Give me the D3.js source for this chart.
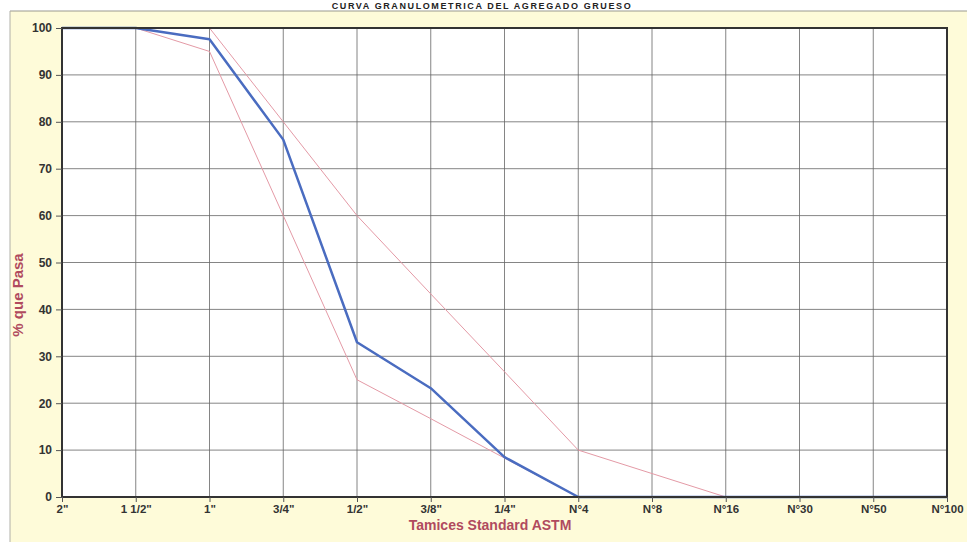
<!DOCTYPE html>
<html>
<head>
<meta charset="utf-8">
<script src="https://cdn.jsdelivr.net/npm/d3@7"></script>
<style>
html,body{margin:0;padding:0;background:#fff;}
svg{display:block;font-family:Arial,"Liberation Sans",sans-serif;}
</style>
</head>
<body>
<svg id="chart" width="967" height="542"></svg>
<script>
const sieves = ['2"', '1 1/2"', '1"', '3/4"', '1/2"', '3/8"', '1/4"', 'N°4', 'N°8', 'N°16', 'N°30', 'N°50', 'N°100'];
const passing = [100, 100, 97.6, 76.2, 33, 23.2, 8.5, 0, 0, 0, 0, 0, 0];
const upperLimit = [100, 100, 100, 80, 60, 43.3, 26.7, 10, 5, 0, null, null, null];
const lowerLimit = [100, 100, 95, 60, 25, 16.7, 8.3, 0, null, null, null, null, null];
const yTicks = [0, 10, 20, 30, 40, 50, 60, 70, 80, 90, 100];
const title = "CURVA GRANULOMETRICA DEL AGREGADO GRUESO";
const xTitle = "Tamices Standard ASTM";
const yTitle = "% que Pasa";

const svg = d3.select("#chart");
const W = 967, H = 542;
const m = {l: 62, r: 20, t: 28, b: 45};

// panel
svg.append("rect").attr("x", 10).attr("y", 11).attr("width", W - 10).attr("height", H - 11)
  .attr("fill", "#fefbd9");
svg.append("line").attr("x1", 10).attr("x2", W).attr("y1", 11).attr("y2", 11)
  .attr("stroke", "#9a9a90").attr("stroke-width", 1);
svg.append("line").attr("x1", 10).attr("x2", 10).attr("y1", 11).attr("y2", H)
  .attr("stroke", "#b0b0a8").attr("stroke-width", 1);

// title
svg.append("text").attr("x", 482).attr("y", 9).attr("text-anchor", "middle")
  .attr("font-size", 9).attr("font-weight", "bold").attr("letter-spacing", 1.6)
  .attr("fill", "#222").text(title);

const x = d3.scalePoint().domain(sieves).range([m.l, W - m.r]);
const y = d3.scaleLinear().domain([0, 100]).range([H - m.b, m.t]);

// plot area
svg.append("rect").attr("x", m.l).attr("y", m.t).attr("width", W - m.r - m.l).attr("height", H - m.b - m.t)
  .attr("fill", "#fff");

// grid
svg.append("g").selectAll("line").data(yTicks).join("line")
  .attr("x1", m.l).attr("x2", W - m.r).attr("y1", d => y(d)).attr("y2", d => y(d))
  .attr("stroke", "#666").attr("stroke-width", 0.8);
svg.append("g").selectAll("line").data(sieves).join("line")
  .attr("x1", d => x(d)).attr("x2", d => x(d)).attr("y1", m.t).attr("y2", H - m.b)
  .attr("stroke", "#666").attr("stroke-width", 0.8);

// limit lines
const line = d3.line().defined(d => d[1] !== null).x(d => x(d[0])).y(d => y(d[1]));
svg.append("path").datum(sieves.map((s, i) => [s, upperLimit[i]]))
  .attr("d", line).attr("fill", "none").attr("stroke", "#e49aa6").attr("stroke-width", 1);
svg.append("path").datum(sieves.map((s, i) => [s, lowerLimit[i]]))
  .attr("d", line).attr("fill", "none").attr("stroke", "#e49aa6").attr("stroke-width", 1);
svg.append("path").datum(sieves.map((s, i) => [s, passing[i]]))
  .attr("d", line).attr("fill", "none").attr("stroke", "#4a6cc0").attr("stroke-width", 2.5)
  .attr("stroke-linejoin", "round");

// frame
svg.append("rect").attr("x", m.l).attr("y", m.t).attr("width", W - m.r - m.l).attr("height", H - m.b - m.t)
  .attr("fill", "none").attr("stroke", "#333").attr("stroke-width", 2);

// axes
const yAxis = d3.axisLeft(y).tickValues(yTicks).tickSize(6).tickPadding(4);
const gy = svg.append("g").attr("transform", `translate(${m.l},0)`).call(yAxis);
gy.select(".domain").remove();
gy.selectAll("line").attr("stroke", "#555");
gy.selectAll("text").attr("font-size", 12).attr("font-weight", "bold").attr("fill", "#333")
  .attr("font-family", "Arial, 'Liberation Sans', sans-serif");

const xAxis = d3.axisBottom(x).tickSize(5).tickPadding(3);
const gx = svg.append("g").attr("transform", `translate(0,${H - m.b})`).call(xAxis);
gx.select(".domain").remove();
gx.selectAll("line").attr("stroke", "#555");
gx.selectAll("text").attr("font-size", 11.5).attr("font-weight", "bold").attr("fill", "#333")
  .attr("font-family", "Arial, 'Liberation Sans', sans-serif");

// axis titles
svg.append("text").attr("x", 490).attr("y", 530).attr("text-anchor", "middle")
  .attr("font-size", 14).attr("font-weight", "bold").attr("fill", "#b04a5e").text(xTitle);
svg.append("text").attr("transform", "translate(23,295) rotate(-90)").attr("text-anchor", "middle")
  .attr("font-size", 15).attr("font-weight", "bold").attr("fill", "#b04a5e").text(yTitle);
</script>
</body>
</html>
